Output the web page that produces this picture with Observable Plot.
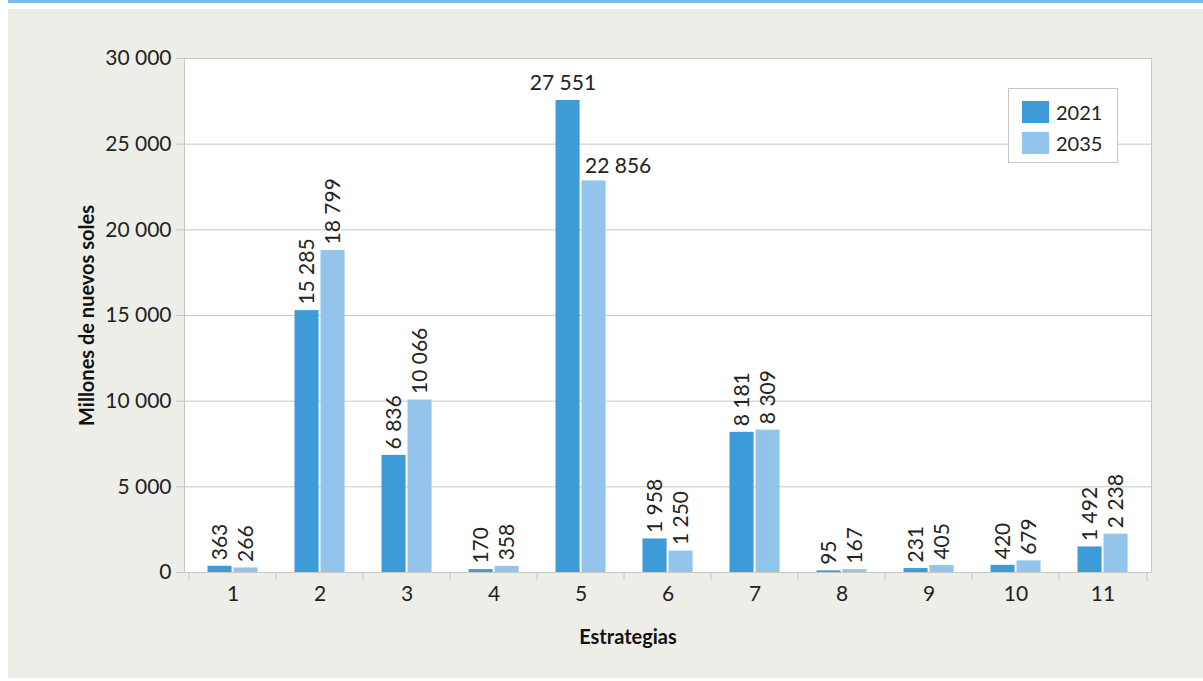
<!DOCTYPE html>
<html>
<head>
<meta charset="utf-8">
<script src="https://cdn.jsdelivr.net/npm/d3@7"></script>
<script src="https://cdn.jsdelivr.net/npm/@observablehq/plot@0.6"></script>
<style>
  html, body { margin: 0; padding: 0; background: #ffffff; width: 1203px; height: 681px; overflow: hidden; font-family: Lato, "Open Sans", sans-serif; }
  #topline { position: absolute; left: 8px; top: 0; width: 1195px; height: 3px; background: #7cb9e3; }
  #panel { position: absolute; left: 8px; top: 9px; width: 1195px; height: 669px; background: #eeeee9; }
  #chart { position: absolute; left: 0; top: 0; }
  #legend { position: absolute; left: 1000px; top: 79px; width: 108px; height: 73px; background: #ffffff; border: 1px solid #c8c8c0; }
  .item { position: absolute; left: 13px; height: 22px; display: flex; align-items: center; }
  .sw { width: 27px; height: 22px; margin-right: 7px; }
  .lab { font-size: 20px; color: #222; font-family: Lato, sans-serif; }
</style>
</head>
<body>
<div id="topline"></div>
<div id="panel">
  <div id="chart"></div>
  <div id="legend"></div>
</div>
<script>
// ---- data ----
const strategies = ["1", "2", "3", "4", "5", "6", "7", "8", "9", "10", "11"];
const years = ["2021", "2035"];
const values2021 = [363, 15285, 6836, 170, 27551, 1958, 8181, 95, 231, 420, 1492];
const values2035 = [266, 18799, 10066, 358, 22856, 1250, 8309, 167, 405, 679, 2238];
const yTicks = [0, 5000, 10000, 15000, 20000, 25000, 30000];
const yTitle = "Millones de nuevos soles";
const xTitle = "Estrategias";
const colors = ["#3d9cd8", "#93c5ec"];
const horizontalLabelStrategy = "5";

// ---- build ----
const locale = d3.formatLocale({decimal: ",", thousands: " ", grouping: [3]});
const fmt = locale.format(",d");

const rows2021 = strategies.map((s, i) => ({s, year: years[0], v: values2021[i]}));
const rows2035 = strategies.map((s, i) => ({s, year: years[1], v: values2035[i]}));

const W = 1195, H = 669;
const mL = 176, mR = 52, mT = 49, mB = 106;
const bw = (W - mL - mR) / strategies.length;
const half = bw / 2;
const gridColor = "#c8c8c0";
const textColor = "#222";
const fs = 21;

const plot = Plot.plot({
  width: W,
  height: H,
  marginLeft: mL,
  marginRight: mR,
  marginTop: mT,
  marginBottom: mB,
  style: {fontFamily: "Lato, 'Open Sans', sans-serif", background: "transparent", overflow: "visible"},
  x: {type: "band", domain: strategies, padding: 0, axis: null},
  y: {domain: [0, 30000], axis: null},
  color: {domain: years, range: colors},
  marks: [
    Plot.frame({fill: "white", stroke: gridColor}),
    Plot.gridY(yTicks, {stroke: gridColor, strokeOpacity: 1}),
    Plot.barY(rows2021, {x: "s", y: "v", fill: "year", insetLeft: 18.5, insetRight: bw - 43.5}),
    Plot.barY(rows2035, {x: "s", y: "v", fill: "year", insetLeft: 44.5, insetRight: bw - 69.5}),
    Plot.ruleY([0], {stroke: gridColor}),
    Plot.axisY({ticks: yTicks, tickFormat: fmt, tickSize: 8, tickPadding: 5, stroke: gridColor, fill: textColor, fontSize: fs, label: null}),
    Plot.axisX({ticks: strategies, tickSize: 8, text: null, fill: "none", dx: -half, stroke: gridColor, label: null}),
    Plot.axisX({ticks: [strategies[strategies.length - 1]], tickSize: 10, text: null, fill: "none", dx: half, stroke: gridColor, label: null}),
    Plot.axisX({ticks: strategies, tickSize: 0, tickPadding: 14, fill: textColor, fontSize: fs, label: null}),
    Plot.text(rows2021.filter(d => d.s !== horizontalLabelStrategy), {x: "s", y: "v", text: d => fmt(d.v), rotate: -90, textAnchor: "start", dx: -13, dy: -6, fontSize: fs, fill: textColor}),
    Plot.text(rows2035.filter(d => d.s !== horizontalLabelStrategy), {x: "s", y: "v", text: d => fmt(d.v), rotate: -90, textAnchor: "start", dx: 13, dy: -6, fontSize: fs, fill: textColor}),
    Plot.text(rows2021.filter(d => d.s === horizontalLabelStrategy), {x: "s", y: "v", text: d => fmt(d.v), textAnchor: "middle", dx: -18, dy: -17, fontSize: fs, fill: textColor}),
    Plot.text(rows2035.filter(d => d.s === horizontalLabelStrategy), {x: "s", y: "v", text: d => fmt(d.v), textAnchor: "start", dx: 4, dy: -15, fontSize: fs, fill: textColor}),
    Plot.text([yTitle], {frameAnchor: "left", rotate: -90, dx: -97, textAnchor: "middle", lineAnchor: "middle", fontWeight: "bold", fontSize: 20, fill: "#111"}),
    Plot.text([xTitle], {frameAnchor: "bottom", dy: 65, dx: -40, textAnchor: "middle", lineAnchor: "middle", fontWeight: "bold", fontSize: 20, fill: "#111"})
  ]
});
document.getElementById("chart").appendChild(plot);

// legend
const legend = document.getElementById("legend");
years.forEach((y, i) => {
  const item = document.createElement("div");
  item.className = "item";
  item.style.top = (12 + i * 31) + "px";
  const sw = document.createElement("div");
  sw.className = "sw";
  sw.style.background = colors[i];
  const lab = document.createElement("span");
  lab.className = "lab";
  lab.textContent = y;
  item.appendChild(sw);
  item.appendChild(lab);
  legend.appendChild(item);
});
</script>
</body>
</html>
